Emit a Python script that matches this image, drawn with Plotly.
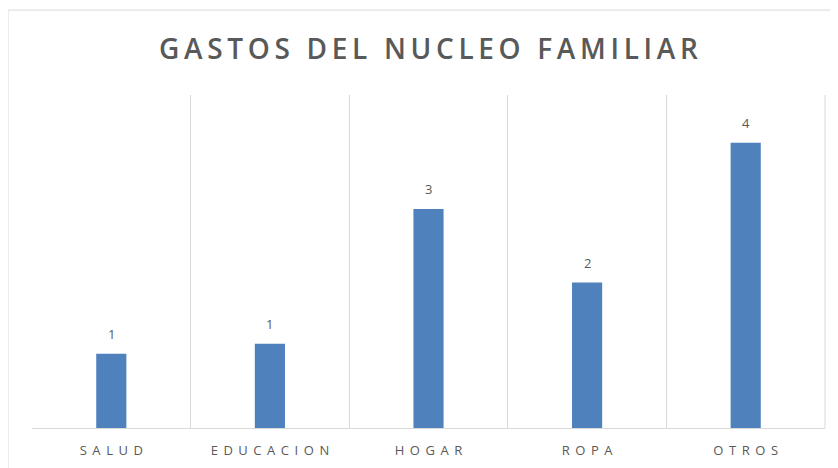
import plotly.graph_objects as go

categories = ["SALUD", "EDUCACION", "HOGAR", "ROPA", "OTROS"]
values = [1.04, 1.18, 3.07, 2.04, 4.0]
title_text = "GASTOS DEL NUCLEO FAMILIAR"

THIN = "\u2009"
SIXTH = "\u2006"

def spaced(s, sep):
    return sep.join(list(s))

tick_text = [spaced(c, " " + THIN) for c in categories]
title_spaced = spaced(title_text, SIXTH)

GRAY_TXT = "#595959"
GRID = "#D9D9D9"
BAR = "#4F81BD"

fig = go.Figure(
    go.Bar(
        x=categories,
        y=values,
        marker=dict(color=BAR, line=dict(width=0)),
        hoverinfo="x+y",
    )
)

annotations = [
    dict(
        x=c,
        y=v,
        xref="x",
        yref="y",
        text=f"{v:.0f}",
        showarrow=False,
        yanchor="bottom",
        yshift=9,
        font=dict(family="Open Sans", size=13, color=GRAY_TXT),
    )
    for c, v in zip(categories, values)
]

fig.update_layout(
    width=838,
    height=468,
    margin=dict(l=24, r=21, t=87, b=48),
    paper_bgcolor="white",
    plot_bgcolor="white",
    bargap=0.81,
    showlegend=False,
    annotations=annotations,
    title=dict(
        text=title_spaced,
        x=0.5,
        xref="paper",
        xanchor="center",
        y=0.913,
        yref="container",
        yanchor="middle",
        font=dict(family="Open Sans", size=28, color=GRAY_TXT, weight=600),
    ),
    xaxis=dict(
        tickmode="array",
        tickvals=categories,
        ticktext=tick_text,
        tickson="boundaries",
        showgrid=True,
        gridcolor=GRID,
        gridwidth=1,
        showline=True,
        linecolor=GRID,
        linewidth=1,
        mirror=False,
        ticks="",
        tickfont=dict(family="Open Sans", size=13, color=GRAY_TXT),
        ticklabelstandoff=10,
        zeroline=False,
    ),
    yaxis=dict(
        range=[0, 4.67],
        visible=False,
        showgrid=False,
        zeroline=False,
    ),
    shapes=[
        dict(
            type="rect",
            xref="paper",
            yref="paper",
            x0=-0.0303,
            x1=1.05,
            y0=-0.3,
            y1=1.255,
            line=dict(color=GRID, width=1),
            fillcolor="rgba(0,0,0,0)",
            layer="below",
        ),
        dict(
            type="line",
            xref="paper",
            yref="paper",
            x0=1,
            x1=1,
            y0=0,
            y1=1,
            line=dict(color=GRID, width=1),
        ),
    ],
)

fig.write_html("out.html")
